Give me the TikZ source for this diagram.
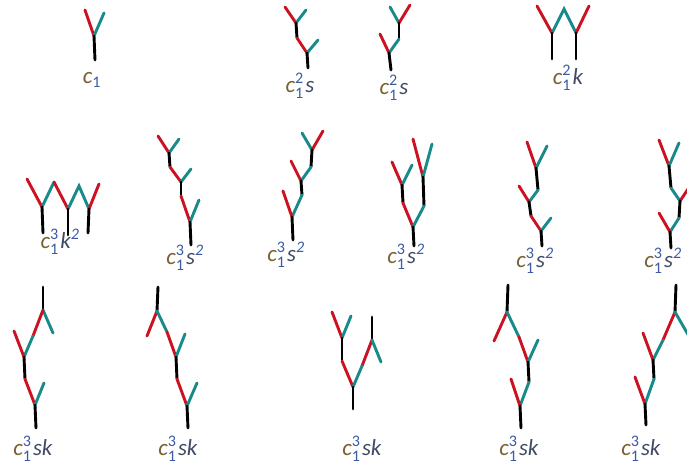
\documentclass[tikz,border=0pt]{standalone}
\usepackage{amsmath}
\usepackage{fontspec}
\setmainfont{Carlito}
\definecolor{rd}{RGB}{204,18,34}
\definecolor{tl}{RGB}{24,138,138}
\definecolor{cc}{RGB}{122,98,50}
\definecolor{nc}{RGB}{59,91,165}
\definecolor{lc}{RGB}{63,74,100}
\newcommand{\lbl}[2]{\textcolor{cc}{\textit{c}}$^{\text{\color{nc}#1}}_{\text{\color{nc}1}}$\kern1.5pt\textcolor{lc}{\textit{#2}}}
\tikzset{
  seg/.style={line width=2.9pt,line cap=round},
  R/.style={seg,draw=rd},
  T/.style={seg,draw=tl},
  B/.style={seg,draw=black},
  lab/.style={inner sep=0pt,font=\fontsize{23}{25}\selectfont}
}
\begin{document}
\begin{tikzpicture}[x=1pt,y=-1pt]
\useasboundingbox (0,0) rectangle (687,467);
\fill[white] (0,0) rectangle (687,467);
\clip (0,0) rectangle (687,467);
% F1
\draw[R] (85,10)--(94,36); \draw[T] (94,36)--(104,13); \draw[B] (94,36)--(95,60);
\node[lab] (l1) at (92,80) {\textcolor{cc}{\textit{c}}$_{\text{\color{nc}1}}$};
% F2
\draw[R] (285,7)--(296,23); \draw[T] (296,23)--(306,10); \draw[B] (296,23)--(297,38);
\draw[R] (297,38)--(307,53); \draw[T] (307,53)--(318,40); \draw[B] (307,53)--(308,68);
\node[lab] (l2) at (300,86) {\lbl{2}{s}};
% F3
\draw[T] (390,7)--(399,23); \draw[R] (399,23)--(410,5); \draw[B] (399,23)--(399,39);
\draw[T] (399,39)--(389,53); \draw[R] (389,53)--(380,34); \draw[B] (389,53)--(391,70);
\node[lab] (l3) at (394,88) {\lbl{2}{s}};
% F4
\draw[R] (537,6)--(552,33); \draw[T] (552,33)--(564,9)--(576,33); \draw[R] (576,33)--(589,6);
\draw[B] (552,33)--(552,59); \draw[B] (576,33)--(576,59);
\node[lab] (l4) at (568,78) {\lbl{2}{k}};
% F5
\draw[R] (27,179)--(42,207); \draw[T] (42,207)--(54,182); \draw[R] (54,182)--(68,209);
\draw[T] (68,209)--(79,186)--(89,209); \draw[R] (89,209)--(99,184);
\draw[B] (42,207)--(43,233); \draw[B] (68,209)--(68,235); \draw[B] (89,209)--(88,233);
\node[lab] (l5) at (60,242) {\lbl{3}{k$^{\text{\color{nc}2}}$}};
% F6
\draw[R] (158,136)--(169,153); \draw[T] (169,153)--(179,139); \draw[B] (169,153)--(170,167);
\draw[R] (170,167)--(181,182); \draw[T] (181,182)--(191,169); \draw[B] (181,182)--(181,196);
\draw[R] (181,196)--(190,222); \draw[T] (190,222)--(199,200); \draw[B] (190,222)--(191,245);
\node[lab] (l6) at (185,258) {\lbl{3}{s$^{\text{\color{nc}2}}$}};
% F7
\draw[T] (302,133)--(312,150); \draw[R] (312,150)--(323,131); \draw[B] (312,150)--(311,167);
\draw[T] (311,167)--(301,181); \draw[R] (301,181)--(291,161); \draw[B] (301,181)--(302,195);
\draw[T] (302,195)--(292,217); \draw[R] (292,217)--(283,191); \draw[B] (292,217)--(293,240);
\node[lab] (l7) at (286,255) {\lbl{3}{s$^{\text{\color{nc}2}}$}};
% F8
\draw[R] (392,162)--(402,185); \draw[T] (402,185)--(412,165); \draw[B] (402,185)--(403,203);
\draw[R] (403,203)--(413,227);
\draw[R] (413,139)--(423,177); \draw[T] (423,177)--(432,144); \draw[B] (423,177)--(424,206);
\draw[T] (424,206)--(413,227); \draw[B] (413,227)--(414,246);
\node[lab] (l8) at (406,257) {\lbl{3}{s$^{\text{\color{nc}2}}$}};
% F9
\draw[R] (527,142)--(536,168); \draw[T] (536,168)--(547,146); \draw[B] (536,168)--(538,190);
\draw[T] (538,190)--(529,202); \draw[R] (529,202)--(519,186); \draw[B] (529,202)--(531,216);
\draw[R] (531,216)--(541,231); \draw[T] (541,231)--(551,218); \draw[B] (541,231)--(542,246);
\node[lab] (l9) at (535,261) {\lbl{3}{s$^{\text{\color{nc}2}}$}};
% F10
\draw[R] (659,140)--(669,166); \draw[T] (669,166)--(679,143); \draw[B] (669,166)--(671,188);
\draw[T] (671,188)--(680,201); \draw[R] (680,201)--(690,186); \draw[B] (680,201)--(679,218);
\draw[T] (679,218)--(670,232); \draw[R] (670,232)--(659,213); \draw[B] (670,232)--(671,248);
\node[lab] (l10) at (663,261) {\lbl{3}{s$^{\text{\color{nc}2}}$}};
% F11
\draw[B] (43,287)--(43,310); \draw[T] (43,310)--(53,333); \draw[R] (43,310)--(33,336);
\draw[T] (33,336)--(24,357); \draw[R] (24,357)--(14,331); \draw[B] (24,357)--(25,379);
\draw[R] (25,379)--(35,405); \draw[T] (35,405)--(44,383); \draw[B] (35,405)--(36,428);
\node[lab] (l11) at (33,449) {\lbl{3}{sk}};
% F12
\draw[B] (158,287)--(157,311); \draw[R] (157,311)--(147,336); \draw[T] (157,311)--(167,332);
\draw[R] (167,332)--(176,357); \draw[T] (176,357)--(185,334); \draw[B] (176,357)--(177,379);
\draw[R] (177,379)--(187,406); \draw[T] (187,406)--(197,383); \draw[B] (187,406)--(188,428);
\node[lab] (l12) at (178,449) {\lbl{3}{sk}};
% F13
\draw[R] (332,312)--(342,338); \draw[T] (342,338)--(351,316); \draw[B] (342,338)--(342,361);
\draw[R] (342,361)--(353,387);
\draw[B] (372,317)--(372,340); \draw[R] (372,340)--(362,366); \draw[T] (362,366)--(353,387);
\draw[T] (372,340)--(381,362); \draw[B] (353,387)--(353,409);
\node[lab] (l13) at (362,449) {\lbl{3}{sk}};
% F14
\draw[B] (508,285)--(507,312); \draw[R] (507,312)--(494,341); \draw[T] (507,312)--(519,337);
\draw[R] (519,337)--(528,362); \draw[T] (528,362)--(538,340); \draw[B] (528,362)--(529,382);
\draw[T] (529,382)--(520,406); \draw[R] (520,406)--(511,379); \draw[B] (520,406)--(521,428);
\node[lab] (l14) at (519,449) {\lbl{3}{sk}};
% F15
\draw[B] (676,285)--(675,312); \draw[R] (675,312)--(663,340); \draw[T] (675,312)--(690,338);
\draw[T] (663,340)--(653,360); \draw[R] (653,360)--(643,333); \draw[B] (653,360)--(654,379);
\draw[T] (654,379)--(645,404); \draw[R] (645,404)--(635,377); \draw[B] (645,404)--(646,425);
\node[lab] (l15) at (641,449) {\lbl{3}{sk}};
\end{tikzpicture}
\end{document}
